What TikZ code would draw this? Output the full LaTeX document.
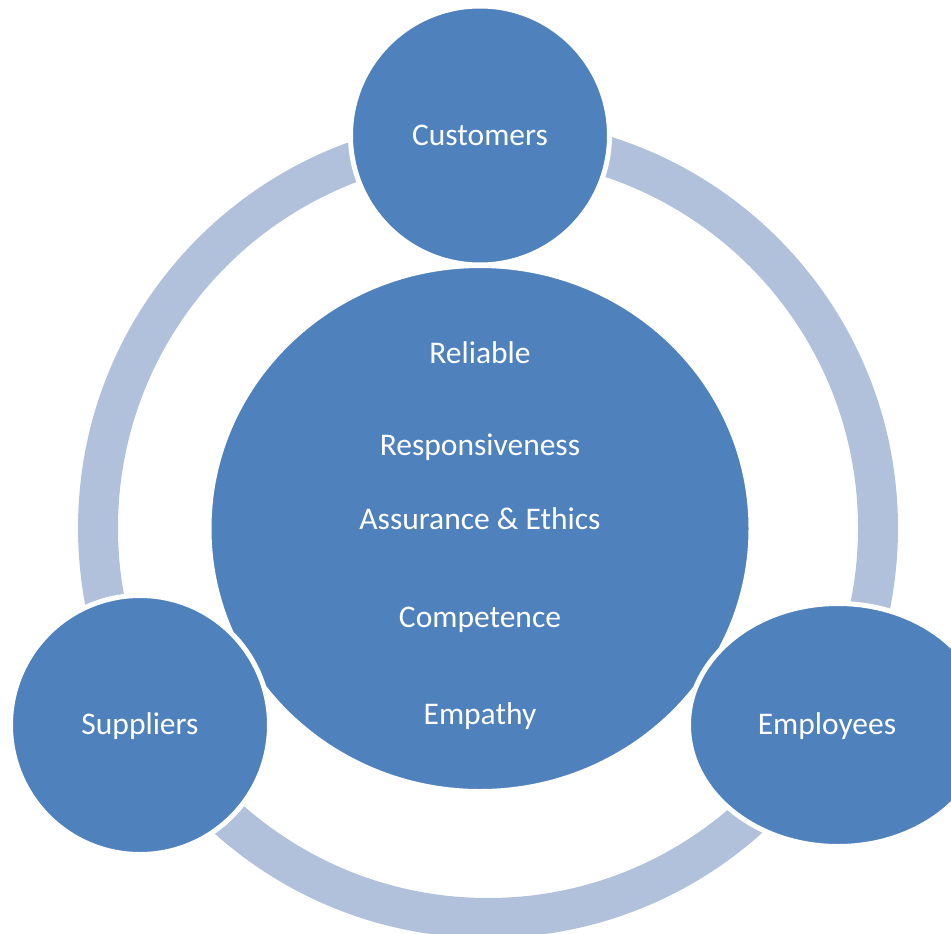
\documentclass[tikz,border=0pt]{standalone}
\usepackage{fontspec}
\setmainfont{Carlito}
\usetikzlibrary{shapes.geometric}
\definecolor{blueF}{HTML}{4F81BD}
\definecolor{ringC}{HTML}{B2C1DB}
\begin{document}
\begin{tikzpicture}[x=1pt,y=-1pt,
  bubble/.style={circle, fill=blueF, draw=white, line width=5pt, inner sep=0pt},
  oval/.style={ellipse, fill=blueF, draw=white, line width=5pt, inner sep=0pt},
  lbl/.style={text=white, font=\fontsize{31.5}{38}\selectfont, anchor=base, inner sep=0pt}]
\useasboundingbox (0,0) rectangle (951,934);
\clip (0,0) rectangle (951,934);
\coordinate (rc) at (488,528);
\draw[ringC, line width=40pt] (rc) circle [radius=390pt];
\node[oval, minimum width=542pt, minimum height=526pt] (core) at (480,528.5) {};
\node[bubble, minimum size=259pt] (cust) at (480,135.5) {};
\node[bubble, minimum size=259pt] (supp) at (140,725) {};
\node[oval, minimum width=299pt, minimum height=243pt] (empl) at (838,725) {};
\node[lbl] (tcust) at (480,145.7) {Customers};
\node[lbl] (tsupp) at (140,734.3) {Suppliers};
\node[lbl] (templ) at (827,734) {Employees};
\node[lbl] (t1) at (480,363.5) {Reliable};
\node[lbl] (t2) at (480,455.5) {Responsiveness};
\node[lbl] (t3) at (480,529) {Assurance \& Ethics};
\node[lbl] (t4) at (480,627) {Competence};
\node[lbl] (t5) at (480,724) {Empathy};
\end{tikzpicture}
\end{document}
